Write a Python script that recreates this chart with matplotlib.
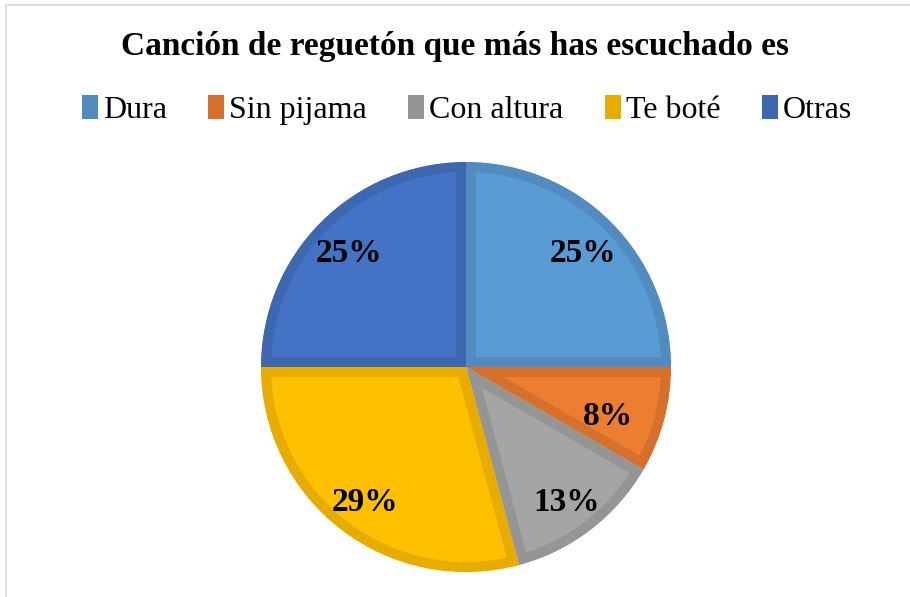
import matplotlib
matplotlib.use("Agg")
import matplotlib.pyplot as plt
from matplotlib.patches import Rectangle
import numpy as np

title = "Canción de reguetón que más has escuchado es"
labels = ["Dura", "Sin pijama", "Con altura", "Te boté", "Otras"]
counts = [6, 2, 3, 7, 6]
fills = ["#5B9BD5", "#ED7D31", "#A5A5A5", "#FFC000", "#4472C4"]
edges = ["#518BC0", "#D5712C", "#959595", "#E6AD00", "#3E67B1"]

plt.rcParams["font.family"] = ["Liberation Serif", "DejaVu Serif"]

W, H = 910, 597
fig = plt.figure(figsize=(W / 100, H / 100), dpi=100)

# light frame (only top and left show in the crop)
fig.patches.append(Rectangle((6 / W, 0 - 0.05), 1.1, (H - 5) / H + 0.05,
                             transform=fig.transFigure, fill=False,
                             edgecolor="#D9D9D9", linewidth=1.2))

cx, cy, r = 466, 367, 205
ax = fig.add_axes([(cx - r) / W, 1 - (cy + r) / H, 2 * r / W, 2 * r / H])


def pct(p):
    return "%d%%" % int(p + 0.5)


wedges, texts, autotexts = ax.pie(counts, colors=fills, startangle=90,
                                  counterclock=False, radius=1,
                                  autopct=pct, pctdistance=0.81,
                                  textprops=dict(fontsize=24, fontweight="bold",
                                                 color="black"))
ax.set_xlim(-1, 1)
ax.set_ylim(-1, 1)
ax.set_aspect("equal")
ax.axis("off")

for w, ec in zip(wedges, edges):
    w.set_edgecolor(ec)
    w.set_linewidth(14.4)
    w.set_clip_path(w)
    w.set_clip_on(True)

for t in autotexts:
    x, y = t.get_position()
    t.set_position((x, y - 0.02))

# the small slice label sits a bit closer to the centre
ang = np.deg2rad(-17.6)
autotexts[1].set_position((0.727 * np.cos(ang), 0.727 * np.sin(ang) - 0.02))

fig.text(0.5, 1 - 47 / H, title, ha="center", va="center",
         fontsize=24, fontweight="bold")

handles = [Rectangle((0, 0), 1, 1, facecolor=c, edgecolor="none") for c in edges]
fig.legend(handles, labels, loc="center",
           bbox_to_anchor=(0.5 + 12 / W, 1 - 110 / H),
           ncol=5, frameon=False, fontsize=23, handlelength=0.5,
           handleheight=0.8, handletextpad=0.15, columnspacing=1.3,
           borderaxespad=0)

fig.savefig("out.png", dpi=100)
